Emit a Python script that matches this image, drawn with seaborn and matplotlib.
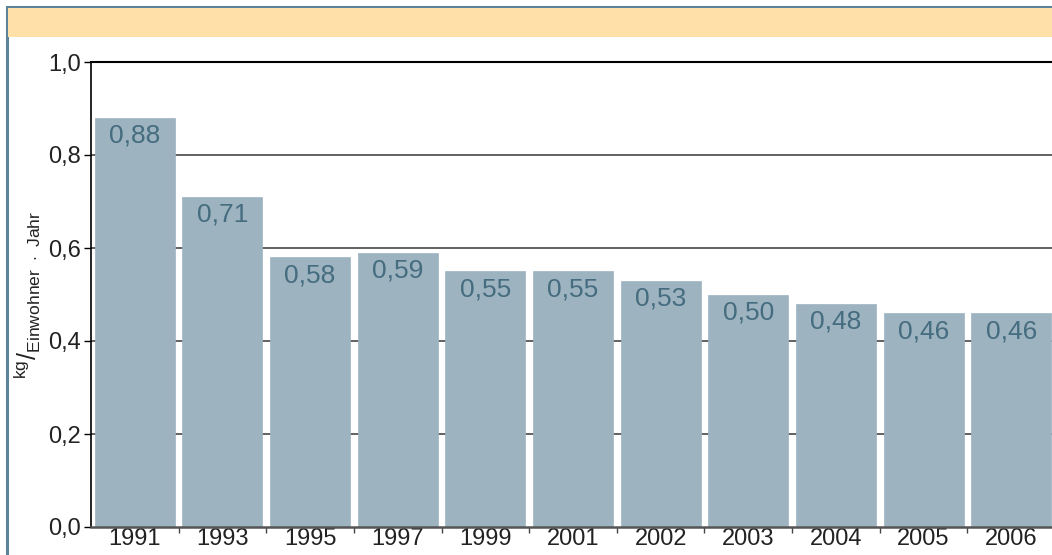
import matplotlib
matplotlib.use("Agg")
import matplotlib.pyplot as plt
from matplotlib.patches import Rectangle
import seaborn as sns
import pandas as pd

years = ["1991", "1993", "1995", "1997", "1999", "2001", "2002", "2003", "2004", "2005", "2006"]
values = [0.88, 0.71, 0.58, 0.59, 0.55, 0.55, 0.53, 0.50, 0.48, 0.46, 0.46]
y_ticks = [0.0, 0.2, 0.4, 0.6, 0.8, 1.0]

BAR = "#9db3c0"
LABEL = "#456c7f"
FRAME = "#5b8499"
BAND = "#ffe0a8"

sns.set_theme(style="white")
plt.rcParams["font.family"] = ["Liberation Sans", "DejaVu Sans"]
plt.rcParams["mathtext.fontset"] = "custom"
plt.rcParams["mathtext.rm"] = "Liberation Sans"

W, H = 1052, 555
fig = plt.figure(figsize=(W / 100, H / 100), dpi=100)
fig.patch.set_facecolor("white")

# frame and header band
fig.patches.append(Rectangle((7 / W, -0.1), 1.2, 1 - 7 / H + 0.1, transform=fig.transFigure,
                             facecolor="none", edgecolor=FRAME, linewidth=2.2, zorder=0))
fig.patches.append(Rectangle((8 / W, 1 - 37 / H), 1.1, 29 / H, transform=fig.transFigure,
                             facecolor=BAND, edgecolor="none", zorder=0))

left, right = 91 / W, 1055 / W
bottom, top = 28 / H, 493 / H
pos = [left, bottom, right - left, top - bottom]

# background axes holding the gridlines
ax_bg = fig.add_axes(pos, zorder=0)
ax_bg.set_ylim(0, 1.0)
ax_bg.set_xlim(0, 1)
for t in y_ticks[1:-1]:
    ax_bg.axhline(t, color="#555555", linewidth=1.3)
ax_bg.set_axis_off()

ax = fig.add_axes(pos, zorder=1)
ax.patch.set_visible(False)

df = pd.DataFrame({"year": years, "value": values})
sns.barplot(data=df, x="year", y="value", color=BAR, saturation=1, width=0.913,
            edgecolor=BAR, linewidth=0.5, ax=ax)

ax.set_ylim(0, 1.0)
ax.set_xlim(-0.5, len(years) - 0.5)

ax.set_yticks(y_ticks)
ax.set_yticklabels([f"{t:.1f}".replace(".", ",") for t in y_ticks], fontsize=17, color="#222222")
ax.set_xticks(range(len(years)))
ax.set_xticklabels(years, fontsize=17, color="#222222")
ax.set_xticks([i + 0.5 for i in range(len(years) - 1)], minor=True)
ax.tick_params(axis="x", which="major", length=0, pad=1)
ax.tick_params(axis="x", which="minor", length=4, width=1, color="#444444", direction="out", bottom=True)
ax.tick_params(axis="y", which="major", length=5, width=1, color="black", direction="out", left=True, pad=2)

ax.set_xlabel("")
ax.set_ylabel(r"$^{\mathrm{kg}}/_{\mathrm{Einwohner}\ \cdot\ \mathrm{Jahr}}$", fontsize=18, color="#222222", labelpad=4)

ax.spines["right"].set_visible(False)
ax.spines["left"].set_color("black")
ax.spines["left"].set_linewidth(1.2)
ax.spines["top"].set_color("black")
ax.spines["top"].set_linewidth(1.5)
ax.spines["bottom"].set_color("#555555")
ax.spines["bottom"].set_linewidth(1.8)

for p, v in zip(ax.patches, values):
    ax.annotate(f"{v:.2f}".replace(".", ","), (p.get_x() + p.get_width() / 2, p.get_height()),
                xytext=(0, -13), textcoords="offset points", ha="center", va="center",
                fontsize=19, color=LABEL, zorder=4)

fig.savefig("out.png", dpi=100)
